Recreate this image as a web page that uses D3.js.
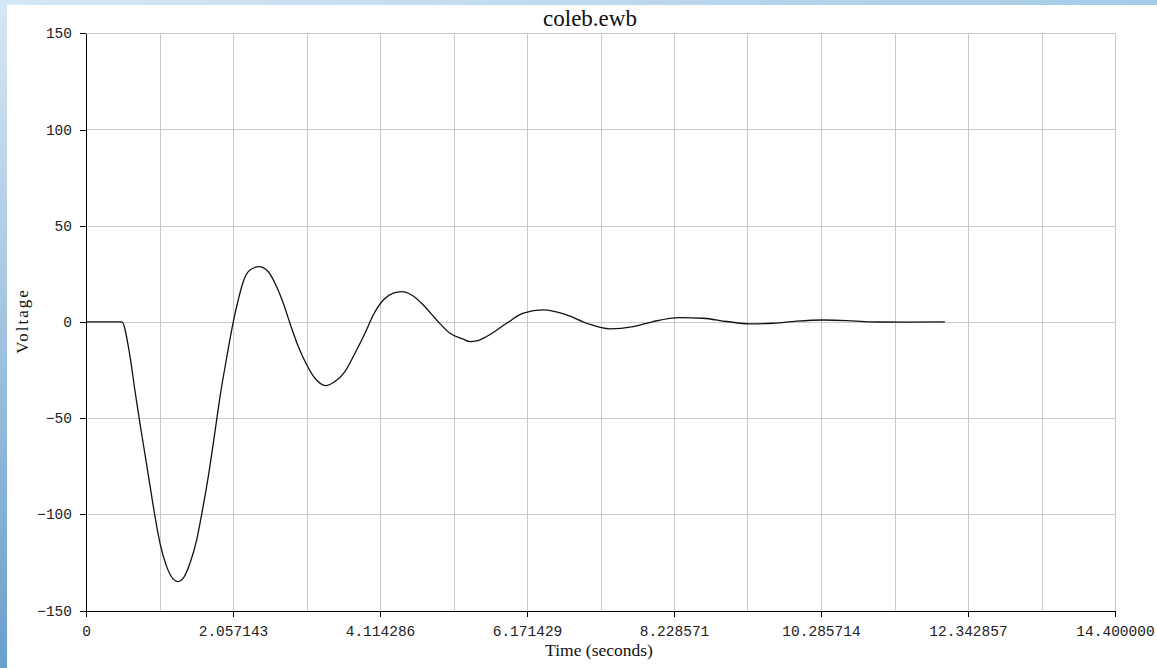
<!DOCTYPE html>
<html>
<head>
<meta charset="utf-8">
<script src="https://cdn.jsdelivr.net/npm/d3@7"></script>
<style>
  body { margin: 0; background: #fff; }
  .grid line { stroke: #c8c8c8; stroke-width: 1; shape-rendering: crispEdges; }
  .axis path, .axis line { stroke: #000; shape-rendering: crispEdges; }
  .axis text { font-family: 'Liberation Mono', monospace; font-size: 14.5px; fill: #222; }
  text.label { font-family: 'Liberation Serif', 'Times New Roman', serif; fill: #111; }
</style>
</head>
<body>
<svg id="chart" width="1157" height="668"></svg>
<script>
// values
var timeValues = [0, 0.50, 0.616, 0.686, 0.756, 0.826, 0.895, 0.965, 1.035, 1.129, 1.222, 1.291,
  1.361, 1.455, 1.549, 1.619, 1.711, 1.805, 1.875, 1.969, 2.061, 2.131, 2.201, 2.295, 2.421,
  2.551, 2.668, 2.761, 2.854, 2.971, 3.088, 3.204, 3.354, 3.484, 3.624, 3.764, 3.904, 4.020,
  4.160, 4.300, 4.417, 4.557, 4.720, 4.907, 5.093, 5.279, 5.373, 5.466, 5.606, 5.886, 6.119,
  6.399, 6.726, 7.006, 7.332, 7.658, 7.938, 8.311, 8.637, 8.965, 9.291, 9.617, 9.944, 10.316,
  10.644, 10.970, 11.483, 12.019]
var voltageValues = [0, 0, -18.0, -36.0, -53.0, -69.0, -85.0, -101.0, -115.0, -127.2, -133.7, -135.0,
  -133.2, -125.4, -113.3, -100.0, -80.4, -57.0, -39.0, -18.5, 0, 11.5, 21.0, 27.0, 28.7,
  26.1, 18.3, 9.7, -0.7, -12.8, -22.3, -29.3, -33.1, -31.0, -25.8, -16.3, -5.9, 3.6,
  11.4, 14.9, 15.7, 14.0, 8.8, 1.0, -5.9, -9.0, -10.2, -9.9, -7.6, -0.7, 4.5,
  6.2, 3.6, -0.7, -3.6, -2.4, 0.2, 2.2, 1.9, 0.2, -1.0, -0.7, 0.4, 1.0,
  0.7, 0, -0.1, 0]

var xMax = 14.4
var xTicks = d3.range(0, 8).map(function(i) { return i * xMax / 7 })
var xGrid = d3.range(0, 15).map(function(i) { return i * xMax / 14 })
var yTicks = [-150, -100, -50, 0, 50, 100, 150]

var svg = d3.select('#chart')
var svgWidth = 1157
var svgHeight = 668
var serif = "'Liberation Serif', 'Times New Roman', serif"

// blue window frame
var defs = svg.append('defs')
var leftGrad = defs.append('linearGradient').attr('id', 'leftGrad')
  .attr('x1', 0).attr('y1', 0).attr('x2', 0).attr('y2', 1)
leftGrad.append('stop').attr('offset', '0%').attr('stop-color', '#d6e7f5')
leftGrad.append('stop').attr('offset', '100%').attr('stop-color', '#6a9fcb')
var topGrad = defs.append('linearGradient').attr('id', 'topGrad')
topGrad.append('stop').attr('offset', '0%').attr('stop-color', '#d6e7f5')
topGrad.append('stop').attr('offset', '100%').attr('stop-color', '#a6cbe8')

svg.append('rect').attr('x', 0).attr('y', 0).attr('width', svgWidth).attr('height', 5)
  .attr('fill', 'url(#topGrad)')
svg.append('rect').attr('x', 0).attr('y', 0).attr('width', 7).attr('height', svgHeight)
  .attr('fill', 'url(#leftGrad)')

var x = d3.scaleLinear().domain([0, xMax]).range([86, 1115])
var y = d3.scaleLinear().domain([-150, 150]).range([610.5, 33.3])

// grid
var grid = svg.append('g').attr('class', 'grid')
grid.selectAll('line.v').data(xGrid.slice(1)).enter().append('line')
  .attr('class', 'v')
  .attr('x1', function(d) { return Math.round(x(d)) + 0.5 })
  .attr('x2', function(d) { return Math.round(x(d)) + 0.5 })
  .attr('y1', y(150)).attr('y2', y(-150))
grid.selectAll('line.h').data(yTicks.slice(1)).enter().append('line')
  .attr('class', 'h')
  .attr('x1', x(0)).attr('x2', x(xMax))
  .attr('y1', function(d) { return Math.round(y(d)) + 0.5 })
  .attr('y2', function(d) { return Math.round(y(d)) + 0.5 })

// axes
svg.append('g').attr('class', 'axis')
  .attr('transform', 'translate(0 ' + y(-150) + ')')
  .call(d3.axisBottom(x).tickValues(xTicks).tickSize(6).tickSizeOuter(0).tickPadding(9)
    .tickFormat(function(d) { return d === 0 ? '0' : d.toFixed(6) }))

svg.append('g').attr('class', 'axis')
  .attr('transform', 'translate(' + x(0) + ' 0)')
  .call(d3.axisLeft(y).tickValues(yTicks).tickSize(6).tickSizeOuter(0).tickPadding(8)
    .tickFormat(function(d) { return d < 0 ? '\u2212' + Math.abs(d) : '' + d }))

// trace
var points = timeValues.map(function(t, i) { return [t, voltageValues[i]] })
var lineFunction = d3.line()
  .x(function(p) { return x(p[0]) })
  .y(function(p) { return y(p[1]) })
  .curve(d3.curveMonotoneX)

svg.append('path')
  .attr('d', lineFunction(points))
  .attr('fill', 'none')
  .attr('stroke', '#111')
  .attr('stroke-width', 1.3)

// labels
svg.append('text').attr('class', 'label')
  .attr('x', 590).attr('y', 26)
  .attr('text-anchor', 'middle')
  .style('font-family', serif)
  .style('font-size', '23px')
  .text('coleb.ewb')

svg.append('text').attr('class', 'label')
  .attr('x', 599).attr('y', 656)
  .attr('text-anchor', 'middle')
  .style('font-family', serif)
  .style('font-size', '17.5px')
  .text('Time (seconds)')

svg.append('g')
  .attr('transform', 'translate(28 321)')
  .append('text').attr('class', 'label')
  .attr('transform', 'rotate(-90)')
  .attr('text-anchor', 'middle')
  .style('font-family', serif)
  .style('font-size', '17px')
  .style('letter-spacing', '2px')
  .text('Voltage')
</script>
</body>
</html>
